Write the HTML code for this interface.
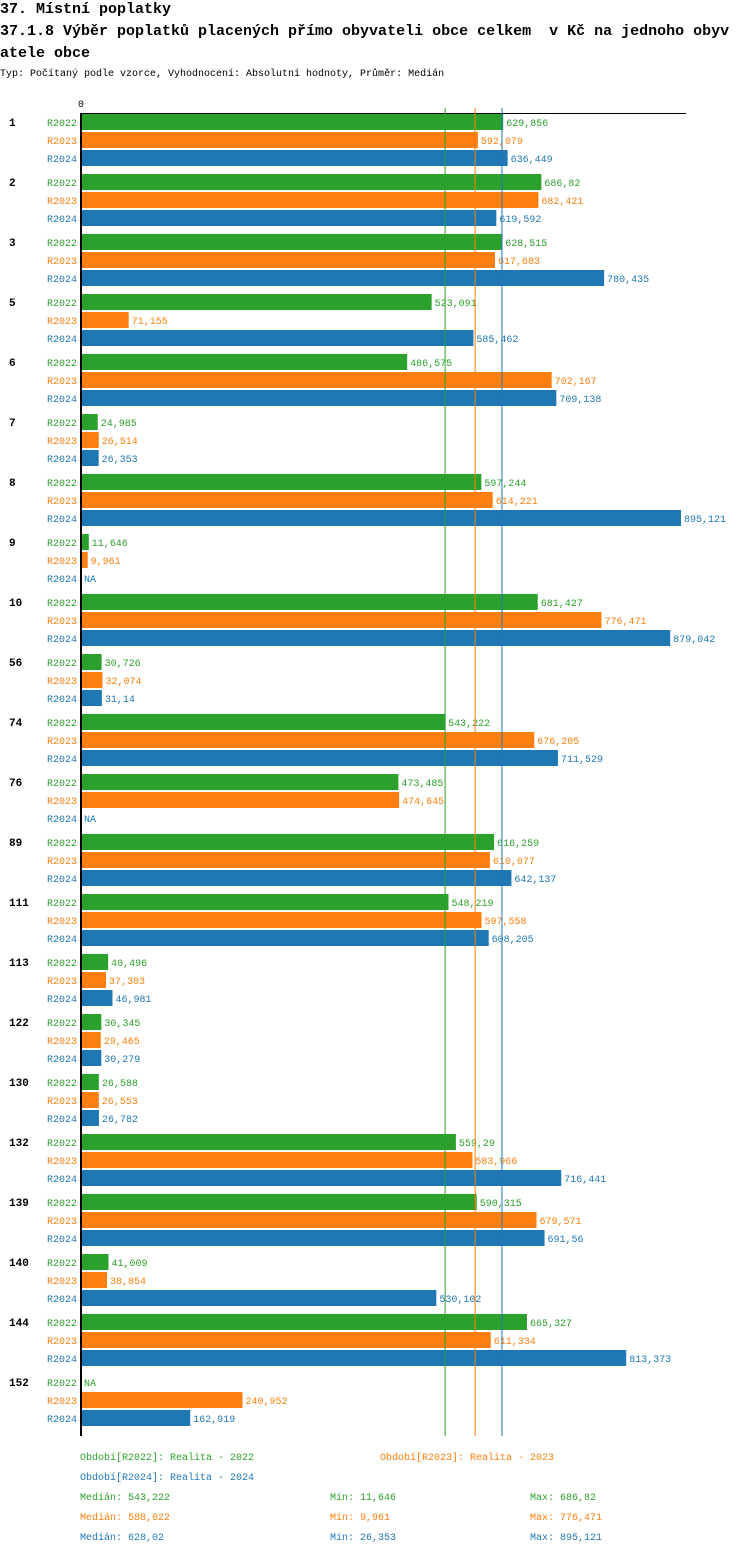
<!DOCTYPE html>
<html><head><meta charset="utf-8"><style>
body{margin:0;background:#fff;width:750px;height:1554px;overflow:hidden}
svg text{font-family:"Liberation Mono",monospace;white-space:pre}
</style></head><body>
<svg id="c" width="750" height="1554" xmlns="http://www.w3.org/2000/svg">
<text x="0" y="13" font-size="15" font-weight="bold">37. Místní poplatky</text>
<text x="0" y="35" font-size="15" font-weight="bold">37.1.8 Výběr poplatků placených přímo obyvateli obce celkem &#160;v Kč na jednoho obyv</text>
<text x="0" y="57" font-size="15" font-weight="bold">atele obce</text>
<text x="0" y="76" font-size="10">Typ: Počítaný podle vzorce, Vyhodnocení: Absolutní hodnoty, Průměr: Medián</text>
<text x="78" y="107" font-size="10">0</text>
<line x1="80" y1="113.5" x2="686" y2="113.5" stroke="#000"/>
<g id="bars"></g>
<line x1="81" y1="113" x2="81" y2="1436" stroke="#000" stroke-width="2"/>
</svg>
<script>
const categories=["1","2","3","5","6","7","8","9","10","56","74","76","89","111","113","122","130","132","139","140","144","152"];
const r2022=[629.856,686.82,628.515,523.091,486.575,24.985,597.244,11.646,681.427,30.726,543.222,473.485,616.259,548.219,40.496,30.345,26.588,559.29,590.315,41.009,665.327,null];
const r2023=[592.079,682.421,617.603,71.155,702.167,26.514,614.221,9.961,776.471,32.074,676.205,474.645,610.077,597.558,37.303,29.465,26.553,583.966,679.571,38.854,611.334,240.952];
const r2024=[636.449,619.592,780.435,585.462,709.138,26.353,895.121,null,879.042,31.14,711.529,null,642.137,608.205,46.981,30.279,26.782,716.441,691.56,530.102,813.373,162.919];
const seriesNames=["R2022","R2023","R2024"];
const medians=[543.222,588.022,628.02];
const mins=[11.646,9.961,26.353];
const maxs=[686.82,776.471,895.121];
const colors=["#2ca02c","#ff7f0e","#1f77b4"];
const NS="http://www.w3.org/2000/svg";
const g=document.getElementById('bars');
const svg=document.getElementById('c');
const x=v=>81+v*600/895.121;
const rowY=(i,s)=>114+i*60+s*18;
function mk(tag,attrs,parent){const e=document.createElementNS(NS,tag);for(const k in attrs)e.setAttribute(k,attrs[k]);(parent||g).appendChild(e);return e;}
const fmt=v=>String(v).replace('.',',');
const series=[r2022,r2023,r2024];
categories.forEach((c,i)=>{
  const t=mk('text',{x:9,y:rowY(i,0)+12,'font-size':11,'font-weight':'bold'});
  t.textContent=c;
  
  
  series.forEach((arr,s)=>{
    const y=rowY(i,s);
    const l=mk('text',{x:47,y:y+12,'font-size':10,fill:colors[s]});
    l.textContent=seriesNames[s];
    
    
    const v=arr[i];
    if(v==null){
      const n=mk('text',{x:84,y:y+12,'font-size':10,fill:colors[s]});n.textContent='NA';
      
      
      return;
    }
    const r=mk('rect',{x:81,y:y,width:x(v)-81,height:16,fill:colors[s]});
    
    
    const vt=mk('text',{x:x(v)+3,y:y+12,'font-size':10,fill:colors[s]});vt.textContent=fmt(v);
    
    
  });
});
medians.forEach((m,s)=>{
  const l=mk('line',{x1:x(m),x2:x(m),y1:108,y2:1436,stroke:colors[s],'stroke-width':1});
  
  
});
const leg=[[80,1460,0,"Období[R2022]: Realita - 2022"],[380,1460,1,"Období[R2023]: Realita - 2023"],[80,1480,2,"Období[R2024]: Realita - 2024"]];
leg.forEach(a=>{const t=mk('text',{x:a[0],y:a[1],'font-size':10,fill:colors[a[2]]},svg);t.textContent=a[3];
  
  });
[0,1,2].forEach(s=>{
  const y=1500+s*20;
  [[80,"Medián: "+fmt(medians[s])],[330,"Min: "+fmt(mins[s])],[530,"Max: "+fmt(maxs[s])]].forEach(a=>{
    const t=mk('text',{x:a[0],y:y,'font-size':10,fill:colors[s]},svg);t.textContent=a[1];
    
    
  });
});
</script>
</body></html>
